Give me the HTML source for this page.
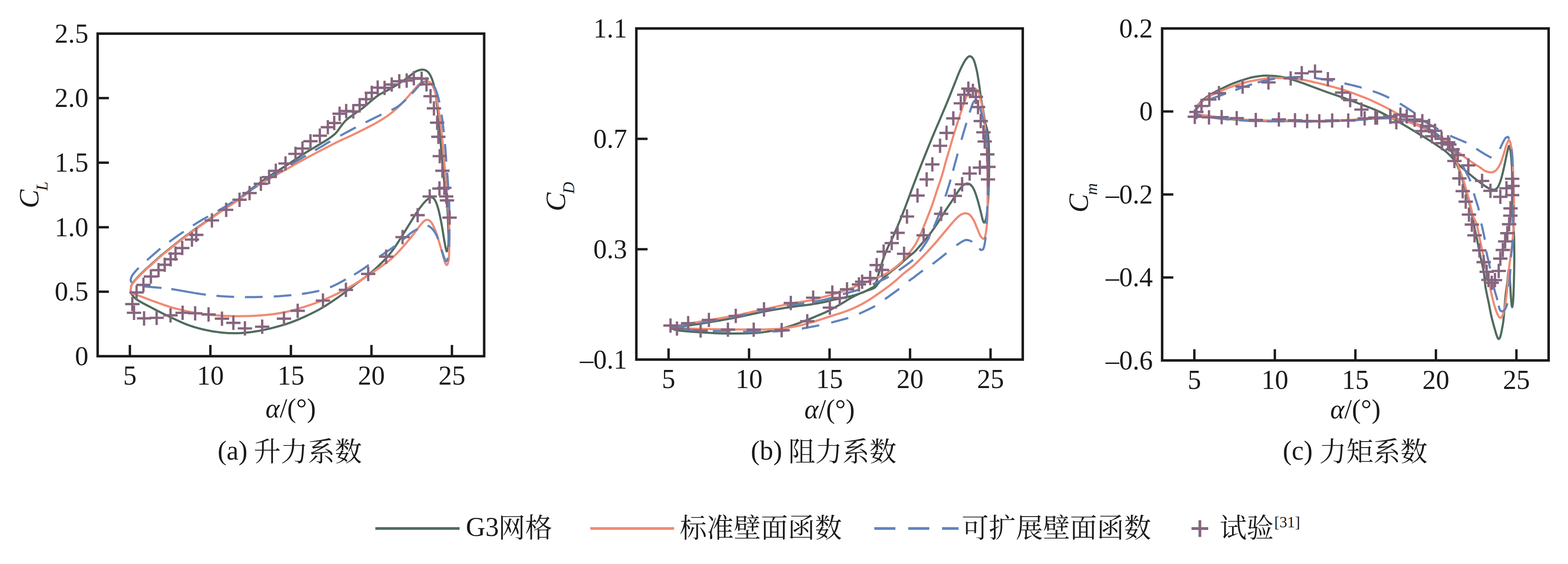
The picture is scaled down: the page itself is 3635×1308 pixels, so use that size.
<!DOCTYPE html>
<html lang="zh"><head><meta charset="utf-8"><title>Aerodynamic coefficient hysteresis loops</title>
<style>html,body{margin:0;padding:0;background:#fff}body{width:3635px;height:1308px;overflow:hidden}svg{display:block}text{font-family:"Liberation Serif",serif;fill:#1a1a1a}.t{font-size:62.5px}.i{font-style:italic}.ax{fill:none;stroke:#1a1a1a;stroke-width:5.8}.tk{stroke:#1a1a1a;stroke-width:5.5;fill:none}.c{fill:none;stroke-width:5;stroke-linejoin:round;stroke-linecap:butt}.g{stroke:#506c5e}.s{stroke:#f08b74}.bd{stroke:#6083bd}.m{stroke:#86657f;stroke-width:5.4;fill:none}.cj{fill:#1a1a1a;font-family:"Liberation Serif","Noto Serif CJK SC",serif;font-size:62.7px}</style></head><body>
<svg width="3635" height="1308" viewBox="0 0 3635 1308">
<rect width="3635" height="1308" fill="#fff"/>
<g>
<g class="c">
<path class="g" d="M302.9 678.8C303.2 675.9 302.6 666.9 304.9 661.4C307.1 655.9 311.3 651.7 316.5 645.8C321.7 640 329.4 632.6 335.9 626.4C342.4 620.3 348.9 614.8 355.3 608.9C361.8 603.1 368.3 597 374.8 591.5C381.2 586 387.7 581.1 394.2 575.9C400.6 570.7 407.1 565.4 413.6 560.4C420.1 555.3 426.5 550.5 433 545.6C439.5 540.8 446 535.9 452.4 531.3C458.9 526.6 465.4 522.2 471.8 517.7C478.3 513.1 484.8 508.6 491.3 504.1C497.7 499.5 504.2 494.9 510.7 490.5C517.2 486.1 523.6 481.9 530.1 477.7C536.6 473.4 543 469.5 549.5 464.9C556 460.2 562.5 454.9 568.9 449.7C575.4 444.6 578.6 441.1 588.3 434C598.1 426.8 614.2 415.4 627.2 406.8C640.1 398.2 653.1 390.7 666 382.3C679 373.9 695.1 362.6 704.9 356.3C714.6 350 717.8 348.5 724.3 344.7C730.7 340.8 737.2 337 743.7 333C750.2 329.1 757.3 325 763.1 321C768.9 316.9 774.1 313.2 778.6 308.5C783.2 303.9 786.4 297.9 790.3 293C794.2 288.1 797.4 283.4 801.9 279C806.5 274.7 811 271.7 817.5 267C823.9 262.3 833.7 256.1 840.8 250.7C847.9 245.2 853.7 239.6 860.2 234.4C866.7 229.1 873.1 223.4 879.6 219.2C886.1 215 892.6 212.7 899 209.1C905.5 205.6 912 201.9 918.4 197.9C924.9 193.9 932 189.1 937.9 185C943.7 181 948.9 176.7 953.4 173.4C957.9 170.1 960.8 167.2 965 165.2C969.3 163.2 974.4 161.4 978.6 161.4C982.8 161.4 987.1 162.8 990.3 165.2C993.5 167.6 995.7 171.1 998.1 175.7C1000.5 180.4 1002.7 186.4 1004.7 193.2C1006.6 200 1008.2 207.4 1009.7 216.5C1011.2 225.6 1012.3 236.6 1013.6 247.6C1014.9 258.6 1016.3 270.9 1017.5 282.5C1018.6 294.2 1019.6 305.8 1020.6 317.5C1021.6 329.1 1022.3 340.8 1023.3 352.4C1024.3 364.1 1025.4 376.4 1026.4 387.4C1027.4 398.4 1028.5 409.4 1029.5 418.4C1030.5 427.5 1031 431.7 1032.2 441.7C1033.5 451.8 1035.8 466.2 1036.9 478.8C1038 491.5 1038.3 504.7 1038.8 517.7C1039.4 530.6 1040 547.1 1040 556.5C1040 565.9 1039.5 569.6 1038.8 574C1038.1 578.4 1036.7 582.9 1035.7 582.9C1034.8 582.9 1034.1 579 1033 574C1031.9 568.9 1030.7 562 1029.1 552.6C1027.5 543.2 1025.6 529.3 1023.3 517.7C1021 506 1018.1 491.8 1015.5 482.7C1012.9 473.7 1010.4 467.5 1007.8 463.3C1005.2 459.1 1002.6 457.8 1000 457.5C997.4 457.2 995.5 458.8 992.2 461.4C989 463.9 985.1 467.5 980.6 473C976.1 478.5 970.9 485.6 965 494.4C959.2 503.1 952.1 515.1 945.6 525.4C939.2 535.8 932 547.4 926.2 556.5C920.4 565.6 916.5 572 910.7 579.8C904.9 587.6 899.7 594.4 891.3 603.1C882.8 611.8 871.8 622.5 860.2 632.2C848.5 641.9 834.3 651.7 821.4 661.4C808.4 671.1 795.5 681.4 782.5 690.5C769.6 699.5 756.6 708.3 743.7 715.7C730.7 723.2 717.8 729.3 704.9 735.1C691.9 741 679 746.3 666 750.7C653.1 755.1 640.1 758.4 627.2 761.6C614.2 764.7 601.3 767.4 588.3 769.3C575.4 771.2 562.5 772.6 549.5 772.8C536.6 773.1 523.6 772.3 510.7 770.9C497.7 769.4 484.8 767.3 471.8 764.3C458.9 761.2 446 757.5 433 752.6C420.1 747.8 407.1 741.3 394.2 735.1C381.2 729 368.3 722.5 355.3 715.7C342.4 708.9 325.2 700.5 316.5 694.4C307.8 688.2 305.2 681.4 302.9 678.8Z"/>
<path class="s" d="M302.9 678.8C303.2 676.1 302.6 667.4 304.9 662.1C307.1 656.8 311.3 652.8 316.5 647C321.7 641.2 329.4 633.7 335.9 627.6C342.4 621.4 348.9 615.9 355.3 610.1C361.8 604.3 368.3 598.1 374.8 592.6C381.2 587.1 387.7 582.3 394.2 577.1C400.6 571.9 407.1 566.6 413.6 561.6C420.1 556.5 426.5 551.7 433 546.8C439.5 541.9 446 537.1 452.4 532.4C458.9 527.8 465.4 523.4 471.8 518.8C478.3 514.3 484.8 509.8 491.3 505.2C497.7 500.7 504.2 496.1 510.7 491.7C517.2 487.2 523.6 483.1 530.1 478.8C536.6 474.6 543 470.6 549.5 466C556 461.5 562.5 456.6 568.9 451.7C575.4 446.7 578.6 442.8 588.3 436.3C598.1 429.9 614.2 420.5 627.2 413C640.1 405.5 653.1 398.5 666 391.3C679 384 691.9 376.6 704.9 369.5C717.8 362.5 730.7 355.7 743.7 348.9C756.6 342.2 769.6 335.5 782.5 329.1C795.5 322.8 808.4 317.2 821.4 310.9C834.3 304.6 850.5 296.5 860.2 291.5C869.9 286.4 873.1 284.5 879.6 280.6C886.1 276.7 892.6 272.8 899 268.2C905.5 263.5 912 258.4 918.4 252.6C924.9 246.8 931.4 240.1 937.9 233.2C944.3 226.3 951.5 217.5 957.3 211.1C963.1 204.6 968.3 198.1 972.8 194.4C977.3 190.7 980.9 189.7 984.5 188.9C988 188.2 991.3 188.3 994.2 189.7C997.1 191.1 999.4 192.5 1001.9 197.1C1004.5 201.7 1007.4 209 1009.7 217.3C1012 225.6 1013.8 236.7 1015.5 246.8C1017.3 256.9 1018.8 267.4 1020.2 277.9C1021.6 288.3 1022.9 298.6 1024.1 309.7C1025.2 320.8 1026.1 333 1027.2 344.7C1028.2 356.3 1029.3 368.6 1030.3 379.6C1031.3 390.6 1032.2 401 1033 410.7C1033.8 420.4 1034 426.5 1035 437.9C1035.9 449.2 1037.8 465.5 1038.8 478.8C1039.9 492.1 1040.6 504.7 1041.2 517.7C1041.7 530.6 1042 543.6 1041.9 556.5C1041.9 569.4 1041.3 586.6 1040.8 595.3C1040.3 604.1 1039.7 605.7 1038.8 608.9C1038 612.2 1037 615.1 1035.7 614.8C1034.4 614.4 1033.1 612.8 1031.1 607C1029 601.2 1026.5 590.8 1023.3 579.8C1020.1 568.8 1015.5 551.7 1011.7 541C1007.8 530.3 1003.9 520.9 1000 515.7C996.1 510.6 992.2 509.3 988.3 509.9C984.5 510.6 981.9 513.8 976.7 519.6C971.5 525.4 963.8 536.8 957.3 544.9C950.8 552.9 944.3 560.7 937.9 568.2C931.4 575.6 924.9 583 918.4 589.5C912 596 908.7 599.5 899 607C889.3 614.4 873.1 625.4 860.2 634.2C847.2 642.9 834.3 651.7 821.4 659.4C808.4 667.2 795.5 674.3 782.5 680.8C769.6 687.2 756.6 693.1 743.7 698.3C730.7 703.4 717.8 707.8 704.9 711.8C691.9 715.9 679 719.8 666 722.7C653.1 725.6 640.1 727.7 627.2 729.3C614.2 730.9 601.3 731.8 588.3 732.4C575.4 733.1 562.5 733.3 549.5 733.2C536.6 733.1 523.6 732.9 510.7 732C497.7 731.2 484.8 729.9 471.8 728.2C458.9 726.4 446 724.3 433 721.6C420.1 718.8 407.1 715.7 394.2 711.8C381.2 708 367 702.5 355.3 698.3C343.7 694 333 689.8 324.3 686.6C315.5 683.4 306.5 680.1 302.9 678.8Z"/>
<path class="bd" d="M304.9 655.5L302.9 650.1L303.9 644.3L306.4 639L309.8 634.3L313.5 629.8L317.4 625.4L321.5 621.2M340.8 603.4L345.2 599.5L349.6 595.7L354 591.8L358.4 588L362.8 584.1L367.2 580.3L371.7 576.5M392.4 560.9L397.1 557.5L401.9 554L406.6 550.6L411.4 547.2L416.2 543.8L421 540.5L425.9 537.2M447.3 522.9L452.2 519.8L457.2 516.7L462.2 513.6L467.2 510.6L472.3 507.7L477.4 504.9L482.6 502.2M504.9 489.3L509.9 486.3L514.9 483.3L520 480.3L525 477.3L530 474.2L535 471.2L540 468.1M561.6 454.2L566.5 450.9L571.4 447.7L576.2 444.4L581.1 441.2L585.9 437.9L590.8 434.7L595.7 431.4M617.1 417.2L622 414L627 410.8L631.9 407.7L636.9 404.5L641.8 401.4L646.8 398.4L651.8 395.3M673.8 381.9L678.8 378.9L683.8 375.8L688.8 372.8L693.9 369.8L698.9 366.8L703.9 363.8L709 360.9M730.2 348.6L735.3 345.6L740.4 342.7L745.4 339.8L750.5 336.8L755.5 333.7L760.5 330.7L765.5 327.7M788.7 314.9L793.8 312.1L799 309.3L804.1 306.5L809.3 303.7L814.4 301L819.6 298.2L824.8 295.5M847.5 283.8L852.8 281.2L858 278.6L863.3 275.9L868.5 273.3L873.8 270.8L879 268.2L884.3 265.6M907.5 254.7L913 252.5L918.1 249.7L923 246.4L927.6 242.9L932.1 239.1L936.5 235.2L940.8 231.3M954.9 217L958.9 212.8L962.8 208.4L966.6 203.9L970.5 199.5L974.6 195.4L979.2 191.8L984.6 189.4M1005.4 199L1008.4 203.9L1010.7 209.3L1012.7 214.8L1014.4 220.4L1016 226.1L1017.4 231.8L1018.7 237.5M1023.7 265.8L1024.5 271.6L1025.3 277.4L1026.1 283.2L1026.8 289L1027.5 294.8L1028.2 300.6L1028.9 306.5M1031.6 334L1032.2 339.8L1032.6 345.7L1033.1 351.5L1033.5 357.4L1033.8 363.2L1034.2 369L1034.6 374.9M1036.6 400.1L1037.1 405.9L1037.6 411.8L1038 417.6L1038.4 423.5L1038.8 429.3L1039.1 435.2L1039.5 441M1041.1 465.5L1041.3 471.4L1041.5 477.2L1041.6 483.1L1041.8 489L1041.9 494.8L1042 500.7L1042 506.5M1042 531.8L1041.9 537.7L1041.8 543.5L1041.7 549.4L1041.6 555.2L1041.4 561.1L1041.2 567L1041 572.8M1038.3 597.9L1036.9 603.6L1033.4 606.2L1031.1 600.9L1029.1 595.3L1027.2 589.8L1025.4 584.2L1023.6 578.7M1015.6 554.7L1013.6 549.2L1011.1 543.9L1008.2 538.8L1004.9 534L1001 529.6L996.6 525.8L991.3 523.2M968 531.3L962.7 533.9L957.7 536.8L952.9 540.2L948.3 543.9L943.9 547.7L939.4 551.4L934.8 555.1M915 570.8L910.3 574.3L905.5 577.7L900.6 581L895.8 584.2L890.9 587.5L886.1 590.8L881.3 594.2M855 614.2L850.3 617.7L845.6 621.1L840.7 624.5L835.9 627.7L830.9 630.9L825.9 634L820.9 637M801.7 647.9L796.6 650.7L791.4 653.5L786.3 656.3L781.1 659L775.8 661.6L770.5 664.1L765.1 666.4M740.1 674.4L734.4 675.6L728.7 676.8L722.9 677.9L717.2 678.9L711.4 679.9L705.6 680.7L699.8 681.6M675.5 684.5L669.6 685.1L663.8 685.6L658 686.1L652.1 686.6L646.3 687L640.4 687.3L634.6 687.6M608.8 688.5L602.9 688.7L597 688.8L591.2 688.9L585.3 689L579.5 689.1L573.6 689.1L567.8 689.1M542.7 688.6L536.9 688.3L531 688L525.2 687.7L519.3 687.3L513.5 686.9L507.6 686.4L501.8 685.9M477 683.4L471.2 682.6L465.5 681.9L459.8 681L454.1 680.1L448.4 679.1L442.7 678.1L437 677.1L431.3 676.1L425.6 675.1L419.9 674.1L414.2 673.1L408.5 672.1L402.8 671.2L397.1 670.3M374.4 667.7L368.5 667.2L362.7 666.7L356.8 666.2L351 665.8L345.2 665.3L339.3 664.8L333.5 664.2"/>
</g>
<path class="m" d="M290.2 705.2h33.2M306.8 688.6v33.2M294.1 725.4h33.2M310.7 708.8v33.2M317.4 738.3h33.2M334 721.7v33.2M346.5 737.1h33.2M363.1 720.5v33.2M378.7 731.3h33.2M395.3 714.7v33.2M406.7 725.4h33.2M423.3 708.8v33.2M435.8 726.6h33.2M452.4 710v33.2M466.9 729.3h33.2M483.5 712.7v33.2M498 739h33.2M514.6 722.4v33.2M524.4 748.7h33.2M541 732.1v33.2M551.2 761.6h33.2M567.8 745v33.2M591.2 757.7h33.2M607.8 741.1v33.2M641.7 739h33.2M658.3 722.4v33.2M673.5 720.8h33.2M690.1 704.2v33.2M732.1 697.1h33.2M748.7 680.5v33.2M785.3 672.2h33.2M801.9 655.6v33.2M837 635.3h33.2M853.6 618.7v33.2M878.5 595.3h33.2M895.1 578.7v33.2M916.6 549.9h33.2M933.2 533.3v33.2M951.6 499h33.2M968.2 482.4v33.2M474.7 511.1h33.2M491.3 494.5v33.2M507.7 486.6h33.2M524.3 470v33.2M538.7 463.3h33.2M555.3 446.7v33.2M562 447.8h33.2M578.6 431.2v33.2M300 678.3h33.2M316.6 661.7v33.2M315.9 660.8h33.2M332.5 644.1v33.2M333.1 641.2h33.2M349.8 624.6v33.2M350.9 626.5h33.2M367.5 609.9v33.2M365.3 614h33.2M381.9 597.4v33.2M379 601.2h33.2M395.6 584.6v33.2M390.3 588.1h33.2M406.9 571.5v33.2M405.9 575.2h33.2M422.5 558.6v33.2M428.4 555.6h33.2M445 539v33.2M438.4 544.8h33.2M455 528.1v33.2M979.6 455.6h33.2M996.2 439v33.2M1019.6 464.8h33.2M1036.2 448.1v33.2M1025.6 504.7h33.2M1042.2 488.1v33.2M588.1 426.2h33.2M604.8 409.6v33.2M607.1 410.6h33.2M623.8 394v33.2M622.8 396.2h33.2M639.4 379.6v33.2M645.3 379.1h33.2M661.9 362.5v33.2M668.4 356.9h33.2M685 340.3v33.2M684.6 344.4h33.2M701.2 327.8v33.2M703.1 327.5h33.2M719.8 310.9v33.2M724.9 314.8h33.2M741.5 298.1v33.2M743.4 295h33.2M760 278.4v33.2M758.1 285.2h33.2M774.8 268.6v33.2M770.6 263.8h33.2M787.2 247.2v33.2M785.9 257.5h33.2M802.5 240.9v33.2M802.4 258.5h33.2M819 241.9v33.2M817.1 243.8h33.2M833.8 227.2v33.2M832.1 230h33.2M848.8 213.4v33.2M845.3 215.2h33.2M861.9 198.7v33.2M859 203.1h33.2M875.6 186.5v33.2M874.9 203.8h33.2M891.5 187.2v33.2M891.5 196h33.2M908.1 179.4v33.2M909 188.5h33.2M925.6 171.9v33.2M926.1 186.9h33.2M942.8 170.3v33.2M942.8 181.2h33.2M959.4 164.7v33.2M960.9 182.5h33.2M977.5 165.9v33.2M972.1 195.6h33.2M988.8 179v33.2M981.5 223.1h33.2M998.1 206.5v33.2M989.4 251.2h33.2M1006 234.7v33.2M996.8 284.5h33.2M1013.4 267.9v33.2M999.6 317.2h33.2M1016.2 300.6v33.2M1002.8 362.1h33.2M1019.4 345.5v33.2M1009 396h33.2M1025.6 379.4v33.2M1002.1 437.2h33.2M1018.8 420.6v33.2M1013.4 435.6h33.2M1030 419v33.2M1017.8 455.6h33.2M1034.4 439v33.2"/>
<rect class="ax" x="226.4" y="78" width="896" height="748.1"/>
<path class="tk" d="M301.1 826.1v-26M487.7 826.1v-26M674.4 826.1v-26M861.1 826.1v-26M1047.7 826.1v-26M226.4 676.5h26M226.4 526.9h26M226.4 377.2h26M226.4 227.6h26"/>
<g class="t">
<text x="301.1" y="892.1" text-anchor="middle">5</text>
<text x="487.7" y="892.1" text-anchor="middle">10</text>
<text x="674.4" y="892.1" text-anchor="middle">15</text>
<text x="861.1" y="892.1" text-anchor="middle">20</text>
<text x="1047.7" y="892.1" text-anchor="middle">25</text>
<text x="204.9" y="846.9" text-anchor="end">0</text>
<text x="204.9" y="697.3" text-anchor="end">0.5</text>
<text x="204.9" y="547.7" text-anchor="end">1.0</text>
<text x="204.9" y="398" text-anchor="end">1.5</text>
<text x="204.9" y="248.4" text-anchor="end">2.0</text>
<text x="204.9" y="98.8" text-anchor="end">2.5</text>
<text x="674" y="968" text-anchor="middle"><tspan class="i">α</tspan>/(°)</text>
</g>
<text class="i" transform="translate(89 483) rotate(-90)" font-size="65">C<tspan font-size="38" dx="-2.5" dy="20.5">L</tspan></text>
<text class="t" x="504.5" y="1066">(a)</text>
<text class="cj" x="588.2" y="1068.5">升力系数</text>
</g>
<g>
<g class="c">
<path class="g" d="M1554.4 759.5C1561.2 758.8 1580.5 757 1595.3 755C1610.1 753 1625 750.6 1643.4 747.5C1661.8 744.4 1684.4 740.7 1705.7 736.5C1727 732.3 1749.9 726.6 1771.2 722.5C1792.5 718.4 1815.2 714.8 1833.3 712C1851.4 709.2 1867.5 707.8 1880 706C1892.5 704.2 1898.7 702.9 1908 701C1917.3 699.1 1926.7 696.4 1936 694.4C1945.3 692.4 1956.2 690.5 1964 688.8C1971.8 687.1 1976.4 686 1982.6 684.1C1988.8 682.2 1995.1 680.2 2001.3 677.6C2007.5 675 2015.8 670.4 2020 668.2C2024.2 666 2025 666 2026.5 664.5C2028 663 2027.9 661.5 2029 659C2030.1 656.5 2031.7 653.6 2033 649.6C2034.3 645.6 2035.3 640.3 2036.9 634.7C2038.5 629.1 2040.3 622.9 2042.5 616C2044.7 609.1 2047.2 601.1 2050 593.6C2052.8 586.1 2056.7 576.9 2059.3 571.2C2061.9 565.5 2062.4 566 2065.5 559.5C2068.6 553 2073.5 541.6 2077.6 532C2081.7 522.4 2085.9 512.5 2090.1 502.1C2094.3 491.7 2098.4 480.7 2102.6 469.7C2106.8 458.7 2110.8 447.1 2115 436C2119.2 424.9 2123.3 413.8 2127.5 403C2131.7 392.2 2135.8 381.5 2140 371C2144.2 360.5 2148.4 350 2152.5 340C2156.6 330 2160.3 320.7 2164.4 311C2168.5 301.3 2172.7 291.8 2176.8 282C2181 272.2 2185.1 262.5 2189.3 252.5C2193.5 242.5 2197.7 232.4 2201.8 222.2C2206 211.9 2210.5 200.4 2214.2 191C2217.9 181.6 2220.9 173.6 2224.2 166C2227.5 158.4 2231.3 150.8 2234.2 145.5C2237.1 140.2 2239.4 137 2241.7 134.5C2244 132 2245.8 130.5 2247.9 130.4C2250 130.3 2252.2 131.5 2254.1 133.7C2256 135.9 2257.4 138.8 2259.1 143.6C2260.8 148.4 2262.6 155.9 2264.1 162.3C2265.6 168.8 2266.6 175.2 2267.8 182.3C2269 189.4 2270.1 197.2 2271.1 204.7C2272.1 212.2 2272.8 218.8 2274.1 227.1C2275.4 235.4 2277.3 245 2279 254.6C2280.7 264.2 2282.5 277.3 2284 284.5C2285.5 291.7 2286.8 293.8 2287.8 298C2288.9 302.2 2289.6 305.2 2290.3 310C2291 314.8 2291.4 321 2291.8 326.8C2292.2 332.6 2292.3 336.1 2292.5 345C2292.7 353.9 2293 367.5 2293 380C2293 392.5 2292.8 406.7 2292.5 420C2292.2 433.3 2291.7 448.3 2291 460C2290.3 471.7 2289.4 482 2288.5 490C2287.6 498 2286.6 503.7 2285.5 508C2284.4 512.3 2283.2 515.5 2282 516C2280.8 516.5 2279.9 515.2 2278.5 511C2277.1 506.8 2275.5 498.7 2273.5 491C2271.5 483.3 2269 472.8 2266.6 464.7C2264.2 456.6 2261.6 448.1 2259.1 442.3C2256.6 436.5 2254.3 432.7 2251.6 429.9C2248.9 427.1 2245.8 425.8 2242.9 425.6C2240 425.4 2237.3 426.2 2234.2 428.6C2231.1 431 2228.3 434.2 2224.2 439.8C2220 445.4 2215.1 453.6 2209.3 462.3C2203.5 471 2195.5 482.6 2189.3 492.2C2183.1 501.8 2177.7 510.9 2171.9 519.6C2166.1 528.3 2160.6 536.4 2154.4 544.5C2148.2 552.6 2140.2 561.4 2134.5 568C2128.8 574.6 2125.1 579.4 2120 584.3C2114.9 589.2 2109.8 592.3 2104 597.3C2098.2 602.3 2091.5 608.8 2085.3 614.1C2079.1 619.4 2072.8 624.1 2066.6 629.1C2060.4 634.1 2053.1 639.8 2048 644.4C2042.9 649 2039.4 653.2 2036 657C2032.6 660.8 2031.6 664.5 2027.4 667.3C2023.2 670.1 2016.5 671.5 2010.6 673.8C2004.7 676.1 1998.2 678.5 1992 681.3C1985.8 684.1 1981.1 686.2 1973.3 690.6C1965.5 695 1954.6 702.1 1945.3 707.4C1936 712.7 1926 718.1 1917.3 722.4C1908.6 726.7 1900.8 729.7 1893.1 733C1885.4 736.3 1880.2 738.6 1871.4 742C1862.6 745.4 1849.9 750.2 1840 753.5C1830.1 756.8 1822.2 759.4 1812.1 762C1802 764.6 1790 767.2 1779.2 769C1768.4 770.8 1762.6 771.8 1747.3 772.5C1732 773.2 1708 773.8 1687.5 773.5C1667 773.2 1643.9 772 1624.2 770.7C1604.5 769.4 1581 767.6 1569.4 765.7C1557.8 763.8 1556.9 760.5 1554.4 759.5Z"/>
<path class="s" d="M1554.4 757.5C1561.2 756.4 1580.5 753.3 1595.3 750.8C1610.1 748.3 1625 745.7 1643.4 742.5C1661.8 739.3 1684.4 735.7 1705.7 731.5C1727 727.3 1749.9 721.7 1771.2 717.1C1792.5 712.5 1815.2 707.6 1833.3 704.1C1851.4 700.6 1867.5 698.8 1880 696.2C1892.5 693.7 1898.7 691.3 1908 688.8C1917.3 686.3 1926.7 684.1 1936 681.3C1945.3 678.5 1954.7 675.4 1964 672C1973.3 668.6 1982.7 664.5 1992 660.8C2001.3 657.1 2012.2 652.7 2020 649.6C2027.8 646.5 2032.4 644.9 2038.6 642.1C2044.8 639.3 2051.1 636.5 2057.3 632.8C2063.5 629.1 2069.8 624.7 2076 619.7C2082.2 614.7 2089 608.8 2094.6 602.9C2100.2 597 2105 590.3 2109.6 584.3C2114.2 578.3 2117.8 574 2122 567C2126.2 560 2130.3 551.1 2134.5 542C2138.7 532.9 2142.8 522.5 2146.9 512.1C2151.1 501.7 2155.2 491.3 2159.4 479.7C2163.6 468.1 2167.8 454.8 2171.9 442.3C2176.1 429.8 2181 415.8 2184.3 404.9C2187.7 394 2189.4 386.1 2192 377C2194.6 367.9 2197.1 359.8 2200 350C2202.9 340.2 2206.1 328.7 2209.3 318C2212.5 307.3 2216.1 295.8 2219.2 286C2222.3 276.2 2225.1 267.5 2227.9 259C2230.7 250.5 2233.2 242.2 2236 235C2238.8 227.8 2242 220.8 2245 216C2248 211.2 2251.5 208.2 2254 206.5C2256.5 204.8 2258.2 205.1 2260 205.5C2261.8 205.9 2263.3 206.7 2265 209C2266.7 211.3 2268.3 214.4 2270 219.5C2271.7 224.6 2273.6 231.3 2275.3 239.6C2277 247.9 2278.9 259.5 2280.3 269.5C2281.8 279.5 2283 289.8 2284 299.4C2285 309 2285.8 313.5 2286.5 326.9C2287.2 340.3 2288.1 367 2288.5 380C2288.9 393 2289 392.5 2289.2 405C2289.4 417.5 2289.5 438.2 2289.5 454.8C2289.5 471.4 2289.4 492.1 2289 504.6C2288.6 517.1 2287.8 522.5 2287 529.6C2286.2 536.7 2285.1 542.9 2284 547C2282.9 551.1 2282.2 554 2280.3 554C2278.4 554 2275.3 551.1 2272.8 547C2270.3 542.9 2268 535.8 2265.3 529.6C2262.6 523.4 2259.7 515 2256.6 509.6C2253.5 504.2 2249.9 499.6 2246.6 497.1C2243.3 494.6 2240 494.5 2236.7 494.7C2233.4 494.9 2230.4 495.9 2226.7 498.4C2222.9 500.9 2219.2 504.4 2214.2 509.6C2209.2 514.8 2203.9 521.3 2196.8 529.6C2189.8 537.9 2180.2 550 2171.9 559.5C2163.6 569 2155.6 577.8 2146.9 586.9C2138.2 596 2128.7 606.1 2120 614.1C2111.3 622.1 2103.5 627.2 2094.6 634.7C2085.7 642.2 2075.9 651.5 2066.6 658.9C2057.3 666.3 2047.9 672.9 2038.6 679.4C2029.3 685.9 2019.9 692.5 2010.6 698.1C2001.3 703.7 1991.9 708.6 1982.6 713C1973.3 717.4 1964 720.9 1954.7 724.2C1945.4 727.5 1937.2 729.6 1926.7 733C1916.2 736.4 1903.5 740.8 1891.4 744.5C1879.3 748.2 1867.2 752.1 1854 755C1840.8 757.9 1824.6 760.5 1812.1 762C1799.6 763.5 1790 763.4 1779.2 763.8C1768.4 764.2 1762.6 764.3 1747.3 764.3C1732 764.3 1708 764 1687.5 763.8C1667 763.5 1643.9 763.3 1624.2 762.8C1604.5 762.2 1581 761.4 1569.4 760.5C1557.8 759.6 1556.9 758 1554.4 757.5Z"/>
<path class="bd" d="M1624 748.4L1629.7 747.4L1635.5 746.4L1641.3 745.4L1647.1 744.4L1652.8 743.4L1658.6 742.4L1664.4 741.4M1691 736.8L1696.8 735.7L1702.5 734.6L1708.3 733.5L1714 732.3L1719.8 731.1L1725.5 729.8L1731.2 728.5M1757.6 722.5L1763.3 721.3L1769 720.1L1774.8 718.9L1780.5 717.7L1786.2 716.5L1792 715.3L1797.7 714.2M1824 709.1L1829.8 708.1L1835.6 707.1L1841.4 706.2L1847.1 705.3L1852.9 704.5L1858.7 703.7L1864.5 702.9M1888 699.5L1893.7 698.6L1899.5 697.5L1905.2 696.4L1911 695.1L1916.6 693.7L1922.3 692.3L1928 690.7M1954 682.4L1959.6 680.7L1965.3 679.1L1970.9 677.6L1976.6 676.1L1982.2 674.5L1987.8 672.8L1993.4 670.9M2023.2 659.1L2028.6 656.8L2033.9 654.5L2039.3 652.1L2044.6 649.7L2049.9 647.2L2055.2 644.6L2060.4 641.9M2083.9 626.9L2088.7 623.5L2093.4 620.1L2098.2 616.7L2102.9 613.3L2107.6 609.8L2112.2 606.1L2116.7 602.3M2132.1 583.3L2135.5 578.6L2139 573.8L2142.3 569L2145.7 564.2L2148.8 559.3L2151.9 554.3L2154.7 549.2M2164.7 527.1L2167 521.7L2169.3 516.3L2171.5 510.9L2173.7 505.5L2175.9 500L2178 494.6L2180 489.1M2191.5 455.8L2193.4 450.2L2195.2 444.6L2196.9 439.1L2198.7 433.5L2200.4 427.9L2202.1 422.2L2203.7 416.6M2209.4 396L2210.9 390.3L2212.4 384.7L2213.9 379L2215.5 373.4L2217 367.7L2218.5 362.1L2220.1 356.4M2229 324.2L2230.6 318.6L2232.2 313L2233.8 307.3L2235.5 301.7L2237.1 296.1L2238.8 290.5L2240.4 284.9M2247.9 261.1L2249.7 255.5L2251.5 250L2253.4 244.4L2255.5 239L2258.7 234.1L2264 232.3L2267.6 236.7M2270.9 247.3L2272.6 252.9L2274.2 258.5L2275.9 264.1L2277.5 269.8L2279.1 275.4L2280.6 281.1L2282.1 286.7M2285.2 300.9L2286.1 306.7L2286.9 312.5L2287.6 318.3L2288.1 324.2L2288.5 330L2288.8 335.9L2289 341.7M2289.3 356.3L2289.4 362.1L2289.5 368L2289.5 373.8L2289.6 379.7L2289.6 385.5L2289.7 391.4L2289.7 397.3M2289.9 411.8L2290.1 417.7L2290.3 423.5L2290.3 429.4L2290.3 435.2L2290.2 441.1L2290 446.9L2289.9 452.8M2289 477.9L2288.7 483.8L2288.4 489.6L2288 495.5L2287.6 501.3L2287.3 507.2L2286.9 513L2286.5 518.9M2284.8 549.7L2284.2 555.5L2283.4 561.3L2282.5 567.1L2281.2 572.8L2279.1 578.3L2274.4 580.3L2270.2 576.3M2253.8 560.9L2248.6 558.1L2243 556.6L2237.2 556.8L2231.9 559.4L2226.9 562.5L2222 565.7L2217.2 569M2194.1 587L2189.5 590.7L2185 594.3L2180.4 598L2175.8 601.6L2171.2 605.2L2166.6 608.8L2161.9 612.3M2139.5 627.2L2134.8 630.6L2130.2 634.2L2125.6 637.8L2120.9 641.4L2116.2 644.9L2111.4 648.2L2106.7 651.7M2084.7 669.7L2080 673.2L2075.3 676.7L2070.6 680.1L2065.8 683.6L2061.1 687L2056.3 690.4L2051.6 693.8M2028.5 709.7L2023.3 712.5L2018.1 715.2L2012.9 717.8L2007.6 720.3L2002.3 722.8L1997 725.3L1991.6 727.7M1966.5 737.3L1960.9 739L1955.3 740.6L1949.6 742.1L1944 743.7L1938.3 745.2L1932.7 746.7L1927 748.1M1899.1 754.4L1893.3 755.6L1887.6 756.7L1881.8 757.8L1876.1 758.9L1870.3 760L1864.5 761L1858.8 762M1831.3 765.7L1825.5 766.3L1819.7 766.8L1813.8 767.3L1808 767.8L1802.1 768.2L1796.3 768.6L1790.5 768.9M1763.6 768.9L1757.7 768.9L1751.9 769.1L1746 769.2L1740.2 769.3L1734.3 769.4L1728.5 769.4L1722.6 769.4M1693.6 768.3L1687.8 768.2L1681.9 768L1676 768L1670.2 767.9L1664.3 767.8L1658.5 767.7L1652.6 767.5M1623.6 766.3L1617.8 766L1611.9 765.6L1606.1 765.2L1600.2 764.8L1594.4 764.2L1588.6 763.5L1582.8 762.8M1554.7 758.5L1560.5 757.7L1566.3 757L1572.1 756.3L1578 755.6L1583.8 754.8L1589.6 754L1595.4 753.2"/>
</g>
<path class="m" d="M1537.8 755h33.2M1554.4 738.4v33.2M1578.7 749.5h33.2M1595.3 732.9v33.2M1626.8 742h33.2M1643.4 725.4v33.2M1689.1 732.6h33.2M1705.7 716v33.2M1754.6 717.6h33.2M1771.2 701v33.2M1816.7 702.6h33.2M1833.3 686v33.2M1868.5 690.4h33.2M1885.1 673.8v33.2M1912.9 678.5h33.2M1929.5 661.9v33.2M1947 671h33.2M1963.6 654.4v33.2M1552.8 762h33.2M1569.4 745.4v33.2M1607.6 766.4h33.2M1624.2 749.8v33.2M1670.9 764.5h33.2M1687.5 747.9v33.2M1730.7 764.5h33.2M1747.3 747.9v33.2M1795.5 765.7h33.2M1812.1 749.1v33.2M1854.8 745h33.2M1871.4 728.4v33.2M1907.2 713.4h33.2M1923.8 696.8v33.2M1930.1 690.9h33.2M1946.7 674.3v33.2M1974.6 659.6h33.2M1991.2 643v33.2M1982 653.4h33.2M1998.6 636.8v33.2M2000.7 644.7h33.2M2017.3 628.1v33.2M2015.7 614.8h33.2M2032.3 598.2v33.2M2028.1 626h33.2M2044.7 609.4v33.2M2031.9 583.6h33.2M2048.5 567v33.2M2050.6 563.7h33.2M2067.2 547.1v33.2M2079.2 588.6h33.2M2095.8 572v33.2M2144.8 381.2h33.2M2161.4 364.6v33.2M2131.6 416.1h33.2M2148.2 399.5v33.2M2110.4 453.5h33.2M2127 436.9v33.2M2086 502.1h33.2M2102.6 485.5v33.2M2064.3 540h33.2M2080.9 523.4v33.2M2124.6 545.8h33.2M2141.2 529.2v33.2M2165.2 495.9h33.2M2181.8 479.3v33.2M2196.9 454.3h33.2M2213.5 437.7v33.2M2213.8 427.4h33.2M2230.4 410.8v33.2M2231.3 402.4h33.2M2247.9 385.8v33.2M2255 388.7h33.2M2271.6 372.1v33.2M2274.9 387h33.2M2291.5 370.4v33.2M2273.7 416.1h33.2M2290.3 399.5v33.2M2162.7 338.1h33.2M2179.3 321.5v33.2M2177.7 308.2h33.2M2194.3 291.6v33.2M2193.4 274.5h33.2M2210 257.9v33.2M2210.8 239.6h33.2M2227.4 223v33.2M2218.8 219.7h33.2M2235.4 203.1v33.2M2228.3 205.5h33.2M2244.9 188.9v33.2M2238.8 210.9h33.2M2255.4 194.3v33.2M2245.7 224.7h33.2M2262.3 208.1v33.2M2250.7 248.3h33.2M2267.3 231.7v33.2M2257 280.7h33.2M2273.6 264.1v33.2M2263.2 306.9h33.2M2279.8 290.3v33.2M2266.2 328.1h33.2M2282.8 311.5v33.2M2272.2 358h33.2M2288.8 341.4v33.2"/>
<rect class="ax" x="1475.2" y="66" width="895.8" height="767.9"/>
<path class="tk" d="M1549.9 833.9v-26M1736.5 833.9v-26M1923.1 833.9v-26M2109.7 833.9v-26M2296.3 833.9v-26M1475.2 577.9h26M1475.2 322h26"/>
<g class="t">
<text x="1549.9" y="899.9" text-anchor="middle">5</text>
<text x="1736.5" y="899.9" text-anchor="middle">10</text>
<text x="1923.1" y="899.9" text-anchor="middle">15</text>
<text x="2109.7" y="899.9" text-anchor="middle">20</text>
<text x="2296.3" y="899.9" text-anchor="middle">25</text>
<text x="1453.7" y="854.7" text-anchor="end">–0.1</text>
<text x="1453.7" y="598.7" text-anchor="end">0.3</text>
<text x="1453.7" y="342.8" text-anchor="end">0.7</text>
<text x="1453.7" y="86.8" text-anchor="end">1.1</text>
<text x="1923.2" y="969.8" text-anchor="middle"><tspan class="i">α</tspan>/(°)</text>
</g>
<text class="i" transform="translate(1310 490) rotate(-90)" font-size="65">C<tspan font-size="38" dx="-2.5" dy="20.5">D</tspan></text>
<text class="t" x="1740.4" y="1066">(b)</text>
<text class="cj" x="1827.4" y="1068.5">阻力系数</text>
</g>
<g>
<g class="c">
<path class="g" d="M2769.8 262.1C2770.5 260 2771 254.2 2773.6 249.6C2776.2 245.1 2780.3 239.4 2785.3 234.7C2790.3 229.9 2796.7 225.3 2803.5 221C2810.3 216.6 2817 213.2 2825.9 208.8C2834.8 204.3 2845.6 198.6 2857.1 194C2868.5 189.5 2884.1 184.2 2894.5 181.3C2904.8 178.4 2911.7 177.6 2919.4 176.6C2927.1 175.6 2932.3 175.2 2940.6 175.4C2948.9 175.6 2960.6 176.5 2969.2 177.9C2977.8 179.2 2983.8 181.2 2992.1 183.6C3000.5 186 3006.3 187.7 3019.1 192.3C3031.9 196.9 3052.3 205 3068.9 211C3085.5 217 3102.1 222.4 3118.8 228.4C3135.4 234.5 3156.1 242.4 3168.6 247.1C3181.1 251.9 3185.2 253.4 3193.5 257.1C3201.8 260.8 3208.3 264.1 3218.4 269.6C3228.6 275 3244.3 283.8 3254.5 289.7C3264.7 295.6 3271.1 299.7 3279.4 304.7C3287.7 309.7 3296 314.4 3304.3 319.6C3312.6 324.8 3320.9 330.2 3329.2 335.8C3337.5 341.4 3345.7 346 3354.1 353.3C3362.5 360.6 3371.3 371.6 3379.7 379.8C3388.1 387.9 3396.3 395.1 3404.6 402.2C3412.9 409.2 3422.1 416.5 3429.5 422.1C3437 427.7 3443.9 432.8 3449.5 435.8C3455.1 438.8 3459.4 440.3 3463.2 440.1C3466.9 439.9 3469.2 438.4 3471.9 434.6C3474.6 430.8 3476.9 425 3479.4 417.1C3481.9 409.2 3484.6 397.2 3486.9 387.2C3489.1 377.3 3491.4 364.8 3493.1 357.3C3494.7 349.8 3495.9 345.5 3496.8 342.4C3497.8 339.3 3498.1 337.8 3498.8 338.6C3499.6 339.5 3500.5 342.2 3501.3 347.4C3502.1 352.5 3503.1 361.1 3503.8 369.8C3504.5 378.5 3505.1 386.4 3505.5 399.7C3506 413 3506.1 432.9 3506.3 449.5C3506.5 466.1 3506.2 483.5 3506.8 499.4C3507.4 515.3 3509.2 529 3509.8 544.9C3510.4 560.8 3510.5 578.2 3510.5 594.8C3510.5 611.4 3510.2 628 3509.8 644.6C3509.4 661.2 3508.7 683.2 3508 694.5C3507.3 705.8 3506.4 712.4 3505.5 712.4C3504.7 712.4 3503.8 703.2 3503.1 694.5C3502.3 685.7 3501.6 669.7 3501 660C3500.4 650.3 3499.8 641.7 3499.3 636C3498.8 630.3 3498.3 626.3 3497.8 626C3497.3 625.7 3496.9 629.2 3496.3 634C3495.7 638.8 3495.2 647 3494.3 655C3493.4 663 3491.8 671.3 3490.6 682C3489.4 692.7 3488.2 709.1 3487.4 719.4C3486.5 729.6 3486.2 736.1 3485.3 743.5C3484.3 751 3483 758.2 3481.8 764.2C3480.7 770.3 3479.7 776.1 3478.4 779.8C3477.1 783.5 3475.5 786.6 3474 786.3C3472.6 786 3471.3 782.3 3469.7 778.1C3468.2 773.8 3466.6 768 3464.6 760.8C3462.5 753.6 3460 745 3457.7 734.9C3455.4 724.8 3453.1 711.9 3450.8 700.4C3448.4 688.9 3445.7 677.7 3443.8 665.9C3442 654.1 3441.5 641.5 3439.5 629.7C3437.5 617.8 3434.5 606.8 3432 594.8C3429.5 582.7 3427.1 569.8 3424.5 557.4C3422 544.9 3419.1 532.2 3416.6 520C3414.1 507.8 3412.8 497.8 3409.6 484.4C3406.4 471 3401.3 453.7 3397.1 439.6C3393 425.4 3388.4 410.5 3384.7 399.7C3380.9 388.9 3378.1 383.1 3374.7 374.8C3371.3 366.4 3368.4 357.5 3364.1 349.5C3359.9 341.6 3355 333.7 3349.2 327.1C3343.3 320.5 3336.7 314.8 3329.2 309.7C3321.7 304.5 3312.6 299.9 3304.3 296C3296 292 3287.7 288.8 3279.4 286C3271.1 283.2 3262.8 281.1 3254.5 279.3C3246.1 277.4 3234.7 275.8 3229.5 274.8C3224.4 273.8 3230.3 273.3 3223.4 273.3C3216.6 273.3 3198.5 274 3188.5 274.5C3178.6 275.1 3174.1 275.8 3163.6 276.5C3153.1 277.3 3138 278.4 3125.5 279C3112.9 279.7 3099.5 279.9 3088.3 280.3C3077.2 280.7 3068.1 281.1 3058.4 281.3C3048.8 281.4 3039.7 281.4 3030.3 281.3C3020.9 281.2 3013 280.9 3002.1 280.8C2991.2 280.7 2979.9 280.9 2964.7 280.8C2949.6 280.7 2927.4 280.8 2911.2 280.3C2894.9 279.7 2880.2 278.5 2867 277.5C2853.9 276.6 2842.9 275.7 2832.1 274.5C2821.4 273.4 2811.5 272.1 2802.7 270.8C2794 269.5 2785.3 268 2779.8 266.6C2774.3 265.1 2771.5 262.8 2769.8 262.1Z"/>
<path class="s" d="M2769.8 262.1C2770.5 260.2 2771 255 2773.6 250.9C2776.2 246.7 2780.3 241.7 2785.3 237.2C2790.3 232.7 2796.7 228 2803.5 224C2810.3 219.9 2817 216.7 2825.9 212.7C2834.8 208.8 2845.6 204.2 2857.1 200.3C2868.5 196.4 2880.5 192.4 2894.5 189.3C2908.4 186.2 2928.1 183 2940.6 181.6C2953 180.2 2960.6 181 2969.2 181.1C2977.8 181.1 2983.8 181.2 2992.1 181.8C3000.5 182.5 3006.3 182.5 3019.1 184.8C3031.9 187.2 3052.3 191.9 3068.9 196C3085.5 200.2 3102.1 204.4 3118.8 209.8C3135.4 215.2 3156.1 223.5 3168.6 228.4C3181.1 233.4 3185.2 235.7 3193.5 239.7C3201.8 243.6 3210.1 247.8 3218.4 252.1C3226.7 256.5 3235.1 261.3 3243.4 265.8C3251.7 270.4 3260 275 3268.3 279.5C3276.6 284.1 3282.9 287.3 3293.2 293.2C3303.5 299.1 3319.6 308 3329.8 315C3340.1 321.9 3346.5 328.7 3354.8 334.9C3363.1 341.1 3371.4 346.3 3379.7 352.3C3388 358.4 3396.3 365.2 3404.6 371C3412.9 376.8 3423.3 383.1 3429.5 387.2C3435.8 391.4 3437.6 393.9 3442 396C3446.4 398 3451.5 399.7 3455.7 399.7C3459.9 399.7 3463.4 398.9 3466.9 396C3470.4 393 3474 387.9 3476.9 382.2C3479.8 376.6 3481.9 369.8 3484.4 362.3C3486.9 354.8 3489.8 343.4 3491.8 337.4C3493.9 331.4 3495.7 328.3 3496.8 326.2C3497.9 324 3497.7 323.4 3498.6 324.4C3499.4 325.5 3500.6 327.3 3501.8 332.4C3503 337.5 3504.6 345.7 3505.5 354.8C3506.5 364 3506.7 375.6 3507.3 387.2C3507.8 398.9 3508.4 410.1 3508.8 424.6C3509.2 439.1 3509.7 458.6 3509.8 474.5C3509.9 490.4 3509.6 509.1 3509.3 520C3509 530.9 3508.7 532.5 3508 539.9C3507.4 547.4 3506.6 555.7 3505.5 564.9C3504.5 574 3503.1 584.8 3501.8 594.8C3500.6 604.7 3499.2 613.9 3498.1 624.7C3496.9 635.5 3495.9 648.8 3494.8 659.6C3493.8 670.4 3493 680.3 3491.8 689.5C3490.7 698.6 3489.6 707.3 3488.1 714.4C3486.6 721.5 3484.8 728 3483.1 731.8C3481.5 735.7 3479.8 737.3 3478.1 737.3C3476.5 737.3 3475 735.2 3473.1 731.8C3471.3 728.4 3469.2 723.9 3466.9 716.9C3464.6 709.8 3461.9 699.9 3459.4 689.5C3456.9 679.1 3454.5 666.2 3452 654.6C3449.5 642.9 3447 631.3 3444.5 619.7C3442 608.1 3439.5 596.4 3437 584.8C3434.5 573.2 3431.8 560.7 3429.5 549.9C3427.2 539.1 3425.8 528.4 3423.3 520C3420.8 511.6 3417.7 509.5 3414.6 499.4C3411.5 489.3 3408.3 473.2 3404.6 459.5C3400.9 445.8 3396.3 430 3392.1 417.1C3388 404.3 3383.9 394.3 3379.7 382.2C3375.4 370.1 3370.9 353.3 3366.6 344.5C3362.3 335.8 3360.4 335 3354.1 329.6C3347.9 324.2 3337.5 317.1 3329.2 312.1C3320.9 307.2 3312.6 303.6 3304.3 299.7C3296 295.7 3287.7 291.8 3279.4 288.5C3271.1 285.2 3262.8 282 3254.5 279.8C3246.1 277.5 3234.7 276 3229.5 274.8C3224.4 273.6 3230.3 272.7 3223.4 272.6C3216.6 272.4 3198.5 273.3 3188.5 273.8C3178.6 274.3 3174.1 275 3163.6 275.8C3153.1 276.5 3138 277.7 3125.5 278.3C3112.9 278.9 3099.5 279.2 3088.3 279.5C3077.2 279.9 3068.1 280.2 3058.4 280.3C3048.8 280.4 3039.7 280.4 3030.3 280.3C3020.9 280.2 3013 279.9 3002.1 279.8C2991.2 279.7 2979.9 279.7 2964.7 279.5C2949.6 279.4 2927.4 279.3 2911.2 278.8C2894.9 278.2 2880.2 277.3 2867 276.3C2853.9 275.3 2842.9 274 2832.1 272.8C2821.4 271.6 2811.5 270.2 2802.7 269.1C2794 267.9 2785.3 267 2779.8 265.8C2774.3 264.7 2771.5 262.7 2769.8 262.1Z"/>
<path class="bd" d="M2802.8 231.2L2808.2 229L2813.7 227L2819.2 225L2824.7 223L2830.2 221.1L2835.8 219.1L2841.3 217.1M2863.7 208.8L2869.2 206.8L2874.7 204.8L2880.2 202.9L2885.8 201L2891.3 199.1L2896.9 197.2L2902.4 195.4M2915.6 191.4L2921.3 189.8L2926.9 188.3L2932.6 187L2938.4 185.7L2944.1 184.6L2949.9 183.5L2955.7 182.6M2979.9 180.1L2985.8 179.7L2991.6 179.3L2997.5 178.9L3003.3 178.6L3009.2 178.5L3015 178.4L3020.9 178.6M3049.9 181.2L3055.7 182L3061.5 182.9L3067.3 183.7L3073.1 184.6L3078.9 185.6L3084.7 186.6L3090.4 187.6M3116.8 193.4L3122.5 194.7L3128.2 196.1L3133.9 197.4L3139.6 198.8L3145.3 200.2L3151 201.7L3156.6 203.3M3182.5 211.4L3188 213.3L3193.5 215.2L3199 217.4L3204.4 219.6L3209.8 222L3215.1 224.4L3220.4 226.9M3245.2 240L3250.2 243.1L3255.2 246.2L3260.1 249.3L3265 252.5L3269.9 255.7L3274.8 259L3279.5 262.4M3299 279.5L3303.9 282.7L3309 285.7L3314 288.6L3319.2 291.5L3324.3 294.3L3329.5 297.1L3334.6 299.9M3361.9 314.8L3367.2 317.2L3372.6 319.5L3378 321.8L3383.4 324L3388.8 326.3L3394.2 328.6L3399.5 331.1M3422.3 345L3427.2 348.1L3432.2 351.3L3437.1 354.4L3442.1 357.4L3447.2 360.3L3452.3 363.2L3457.6 365.8M3477.2 345.4L3479.6 340L3482 334.7L3484.6 329.5L3487.4 324.3L3490.6 319.4L3495.4 317.2L3499 321.5M3503.9 345.6L3504.5 351.5L3505 357.3L3505.5 363.1L3505.9 369L3506.2 374.8L3506.5 380.7L3506.8 386.5M3507.5 411L3507.6 416.8L3507.7 422.7L3507.8 428.5L3507.9 434.4L3507.9 440.2L3508 446.1L3508.1 451.9M3508.2 476.4L3508.2 482.3L3508.2 488.1L3508.2 494L3508.1 499.8L3508.1 505.7L3508.1 511.5L3508.1 517.4M3507.4 555.7L3506.9 561.6L3506.3 567.4L3505.6 573.2L3504.9 579L3504.1 584.8L3503.5 590.7L3502.9 596.5M3501.4 624.1L3501.1 630L3500.7 635.8L3500.3 641.7L3500 647.5L3499.6 653.4L3499.1 659.2L3498.7 665M3494.2 703.2L3492.9 708.9L3490.7 714.3L3487.6 719.2L3482.8 722.4L3477.9 720L3475.6 714.6L3474.1 709M3471.2 696.1L3469.8 690.4L3468.2 684.8L3466.5 679.2L3464.9 673.5L3463.3 667.9L3462 662.2L3460.8 656.5M3454.6 622.7L3453.3 617L3452 611.2L3450.7 605.6L3449.3 599.9L3448 594.2L3446.7 588.4L3445.6 582.7M3442.2 556L3441.1 550.2L3439.9 544.5L3438.7 538.7L3437.5 533L3436.2 527.3L3434.9 521.6L3433.6 518.3M3428.5 487.8L3427.1 482.1L3425.4 476.5L3423.7 470.9L3422 465.3L3420.2 459.7L3418.5 454.2L3416.8 448.5M3408.9 420.5L3406.5 415.1L3404 409.8L3401.3 404.6L3398.7 399.4L3395.9 394.2L3393.2 389L3390.5 383.8M3380.1 363L3377.5 357.8L3374.8 352.6L3371.9 347.5L3368.7 342.6L3365.2 337.9L3361.2 333.6L3356.8 329.8M3337.7 316.6L3332.9 313.2L3328.2 309.8L3323.3 306.5L3318.4 303.2L3313.5 300.1L3308.4 297.1L3303.3 294.3M3282.3 284.5L3276.7 282.6L3271.1 280.9L3265.5 279.4L3259.7 278.2L3253.9 277.3L3248.1 276.6L3242.3 276M3219.1 274.9L3220 274.3L3222.9 274.1L3217.1 274.2L3211.2 274.4L3205.4 274.6L3199.5 274.8L3193.7 275.1M3170.5 276.5L3164.6 277L3158.8 277.4L3153 277.8L3147.1 278.3L3141.3 278.7L3135.4 279.2L3129.6 279.5M3106.4 280.5L3100.5 280.7L3094.7 280.8L3088.8 281L3083 281.2L3077.1 281.4L3071.3 281.7L3065.4 281.9M3042.2 282.1L3036.3 282.1L3030.4 282L3024.6 281.9L3018.7 281.8L3012.9 281.7L3007 281.6L3001.2 281.5M2977.9 281.5L2972.1 281.5L2966.2 281.5L2960.4 281.5L2954.5 281.5L2948.6 281.5L2942.8 281.5L2936.9 281.4M2913.7 281.1L2907.8 280.9L2902 280.7L2896.1 280.4L2890.3 280.1L2884.4 279.7L2878.6 279.3L2872.7 278.9M2849.6 277.2L2843.7 276.7L2837.9 276.1L2832.1 275.5L2826.3 274.9L2820.4 274.1L2814.6 273.4L2808.8 272.5M2785.9 268.6L2780.3 267.2L2774.8 265.1L2769.9 262L2771.8 256.5L2774.9 251.6L2778.7 247.1L2782.8 242.9"/>
</g>
<path class="m" d="M2753.2 270.8h33.2M2769.8 254.2v33.2M2786.1 272.1h33.2M2802.7 255.5v33.2M2815.5 271.6h33.2M2832.1 255v33.2M2850.4 274h33.2M2867 257.4v33.2M2894.6 278.3h33.2M2911.2 261.7v33.2M2948.1 277h33.2M2964.7 260.4v33.2M2985.5 279h33.2M3002.1 262.4v33.2M3013.7 280.8h33.2M3030.3 264.2v33.2M3041.8 281.3h33.2M3058.4 264.7v33.2M3071.7 279.5h33.2M3088.3 262.9v33.2M3108.9 279.5h33.2M3125.5 262.9v33.2M3147 274.5h33.2M3163.6 257.9v33.2M3171.9 272.6h33.2M3188.5 256v33.2M3175.7 272.6h33.2M3192.3 256v33.2M3206.8 270.8h33.2M3223.4 254.2v33.2M2757 259.6h33.2M2773.6 243v33.2M2768.7 245.9h33.2M2785.3 229.3v33.2M2786.9 230.9h33.2M2803.5 214.3v33.2M2809.3 216h33.2M2825.9 199.4v33.2M2864.1 201h33.2M2880.7 184.4v33.2M2924 191.1h33.2M2940.6 174.5v33.2M2975.5 181.8h33.2M2992.1 165.2v33.2M3001.2 169.9h33.2M3017.8 153.3v33.2M3031.9 166.1h33.2M3048.5 149.5v33.2M3061.8 183.6h33.2M3078.4 167v33.2M3094.7 214.7h33.2M3111.3 198.1v33.2M3113.4 232.2h33.2M3130 215.6v33.2M3139.5 254.1h33.2M3156.1 237.5v33.2M3206.2 269.8h33.2M3222.8 253.2v33.2M3220.4 283.5h33.2M3237 266.9v33.2M3229.9 266h33.2M3246.5 249.4v33.2M3244.6 269.8h33.2M3261.2 253.2v33.2M3262.8 277.3h33.2M3279.4 260.7v33.2M3280.7 281h33.2M3297.3 264.4v33.2M3277.9 304h33.2M3294.5 287.4v33.2M3296.4 292.2h33.2M3313 275.6v33.2M3310.1 303.4h33.2M3326.7 286.8v33.2M3302.9 316h33.2M3319.5 299.4v33.2M3325.4 322h33.2M3342 305.4v33.2M3326.4 332h33.2M3343 315.4v33.2M3340.4 330h33.2M3357 313.4v33.2M3343.4 335h33.2M3360 318.4v33.2M3350.9 346.5h33.2M3367.5 329.9v33.2M3362.9 359.7h33.2M3379.5 343.1v33.2M3355.1 373.4h33.2M3371.7 356.8v33.2M3366.6 413.8h33.2M3383.2 397.2v33.2M3374.3 443.3h33.2M3390.9 426.7v33.2M3381.3 467.7h33.2M3397.9 451.1v33.2M3388.8 497.6h33.2M3405.4 481v33.2M3395.5 520.8h33.2M3412.1 504.2v33.2M3401.7 545.7h33.2M3418.3 529.1v33.2M3412.9 580.6h33.2M3429.5 564v33.2M3422.9 608h33.2M3439.5 591.4v33.2M3429.9 630.4h33.2M3446.5 613.8v33.2M3434.1 649.1h33.2M3450.7 632.5v33.2M3441.6 655.8h33.2M3458.2 639.2v33.2M3449.1 649.6h33.2M3465.7 633v33.2M3457.8 628.4h33.2M3474.4 611.8v33.2M3461.5 599.8h33.2M3478.1 583.2v33.2M3467.3 579.8h33.2M3483.9 563.2v33.2M3472.7 559.9h33.2M3489.3 543.3v33.2M3477.7 540.7h33.2M3494.3 524.1v33.2M3481.9 520h33.2M3498.5 503.4v33.2M3484.7 500.1h33.2M3501.3 483.5v33.2M3485.2 483.2h33.2M3501.8 466.6v33.2M3488.9 452.5h33.2M3505.5 435.9v33.2M3489.7 431.3h33.2M3506.3 414.7v33.2M3488.9 414.6h33.2M3505.5 398v33.2M3475.7 436.6h33.2M3492.3 420v33.2M3461.5 456.5h33.2M3478.1 439.9v33.2M3438.6 442.6h33.2M3455.2 426v33.2M3419.2 419.6h33.2M3435.8 403v33.2M3387.3 383.5h33.2M3403.9 366.9v33.2"/>
<rect class="ax" x="2694.1" y="66" width="896" height="769.9"/>
<path class="tk" d="M2768.8 835.9v-26M2955.4 835.9v-26M3142.1 835.9v-26M3328.8 835.9v-26M3515.4 835.9v-26M2694.1 643.4h26M2694.1 451h26M2694.1 258.5h26"/>
<g class="t">
<text x="2768.8" y="901.9" text-anchor="middle">5</text>
<text x="2955.4" y="901.9" text-anchor="middle">10</text>
<text x="3142.1" y="901.9" text-anchor="middle">15</text>
<text x="3328.8" y="901.9" text-anchor="middle">20</text>
<text x="3515.4" y="901.9" text-anchor="middle">25</text>
<text x="2672.6" y="856.7" text-anchor="end">–0.6</text>
<text x="2672.6" y="664.2" text-anchor="end">–0.4</text>
<text x="2672.6" y="471.8" text-anchor="end">–0.2</text>
<text x="2672.6" y="279.3" text-anchor="end">0</text>
<text x="2672.6" y="86.8" text-anchor="end">0.2</text>
<text x="3142.2" y="969.8" text-anchor="middle"><tspan class="i">α</tspan>/(°)</text>
</g>
<text class="i" transform="translate(2522 493) rotate(-90)" font-size="65">C<tspan font-size="38" dx="-2.5" dy="20.5">m</tspan></text>
<text class="t" x="2973.8" y="1066">(c)</text>
<text class="cj" x="3058.5" y="1068.5">力矩系数</text>
</g>
<g>
<path class="c g" d="M870.1 1225.6H1065.4" style="stroke-width:6.2"/>
<path class="c s" d="M1368.4 1225.6H1562.9" style="stroke-width:6.2"/>
<path class="c" d="M2026.8 1225.6H2222.3" style="stroke:#6083bd;stroke-width:6.2;stroke-dasharray:49 29.6"/>
<path class="m" d="M2762.2 1225.8h38.8M2781.6 1206.4v38.8" style="stroke-width:6.4"/>
<text class="t" x="1080" y="1243.2">G3</text>
<text class="cj" x="1154.9" y="1245.7">网格</text>
<text class="cj" x="1575.7" y="1245.7">标准壁面函数</text>
<text class="cj" x="2229.6" y="1245.7">可扩展壁面函数</text>
<text class="cj" x="2827.4" y="1245.7">试验</text>
<text x="2953.9" y="1222.8" font-size="36">[31]</text>
</g>
</svg></body></html>
